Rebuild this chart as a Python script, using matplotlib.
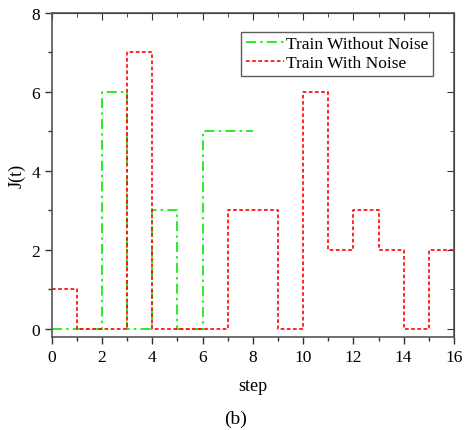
import matplotlib.pyplot as plt
import numpy as np

plt.rcParams['font.family'] = ['Liberation Serif', 'DejaVu Serif']

# step values, each holds from x to x+1
steps_clean = [0, 1, 2, 3, 4, 5, 6, 7, 8]
j_clean = [0, 0, 6, 0, 3, 0, 5, 5, 5]

steps_noise = list(range(17))
j_noise = [1, 0, 0, 7, 0, 0, 0, 3, 3, 0, 6, 2, 3, 2, 0, 2, 2]

fig = plt.figure(figsize=(4.67, 4.31), dpi=100)
ax = fig.add_axes([0.111, 0.216, 0.861, 0.752])

ax.step(steps_clean, j_clean, where="post", color="#00ee00", lw=1.2,
        ls=(0, (6, 2.5, 1.5, 2.5)), label="Train Without Noise")
ax.step(steps_noise, j_noise, where="post", color="#ff0000", lw=1.2,
        ls=(0, (2.2, 1.5)), label="Train With Noise")

ax.set_xlim(0, 16)
ax.set_ylim(-0.2, 8)
ax.set_xticks(np.arange(0, 17, 2))
ax.set_xticks(np.arange(1, 16, 2), minor=True)
ax.set_yticks(np.arange(0, 9, 2))
ax.set_yticks(np.arange(1, 8, 2), minor=True)
ax.tick_params(which="both", direction="out", labelsize=12.5, width=1, colors="#333333",
               labelcolor="black")
ax.tick_params(which="major", length=5)
ax.tick_params(which="minor", length=3)
for s in ax.spines.values():
    s.set_color("#555555")
    s.set_linewidth(1.2)

top = ax.secondary_xaxis("top")
top.set_xticks(np.arange(0, 17, 2))
top.set_xticks(np.arange(1, 16, 2), minor=True)
top.tick_params(which="both", direction="in", labeltop=False, colors="#333333")
top.tick_params(which="major", length=5)
top.tick_params(which="minor", length=3)
right = ax.secondary_yaxis("right")
right.set_yticks(np.arange(0, 9, 2))
right.set_yticks(np.arange(1, 8, 2), minor=True)
right.tick_params(which="both", direction="in", labelright=False, colors="#333333")
right.tick_params(which="major", length=5)
right.tick_params(which="minor", length=3)

ax.set_xlabel("step", fontsize=13, labelpad=9)
ax.set_ylabel("J(t)", fontsize=13, labelpad=4)
leg = ax.legend(loc="upper right", bbox_to_anchor=(0.948, 0.941), fontsize=12.5,
                frameon=True, fancybox=False, edgecolor="#333333", handlelength=2.2,
                handletextpad=0.15, borderpad=0.25, labelspacing=0.15, borderaxespad=0)
leg.get_frame().set_linewidth(1)

fig.text(0.505, 0.027, "(b)", ha="center", va="center", fontsize=14)

plt.savefig("out.png", dpi=100)
